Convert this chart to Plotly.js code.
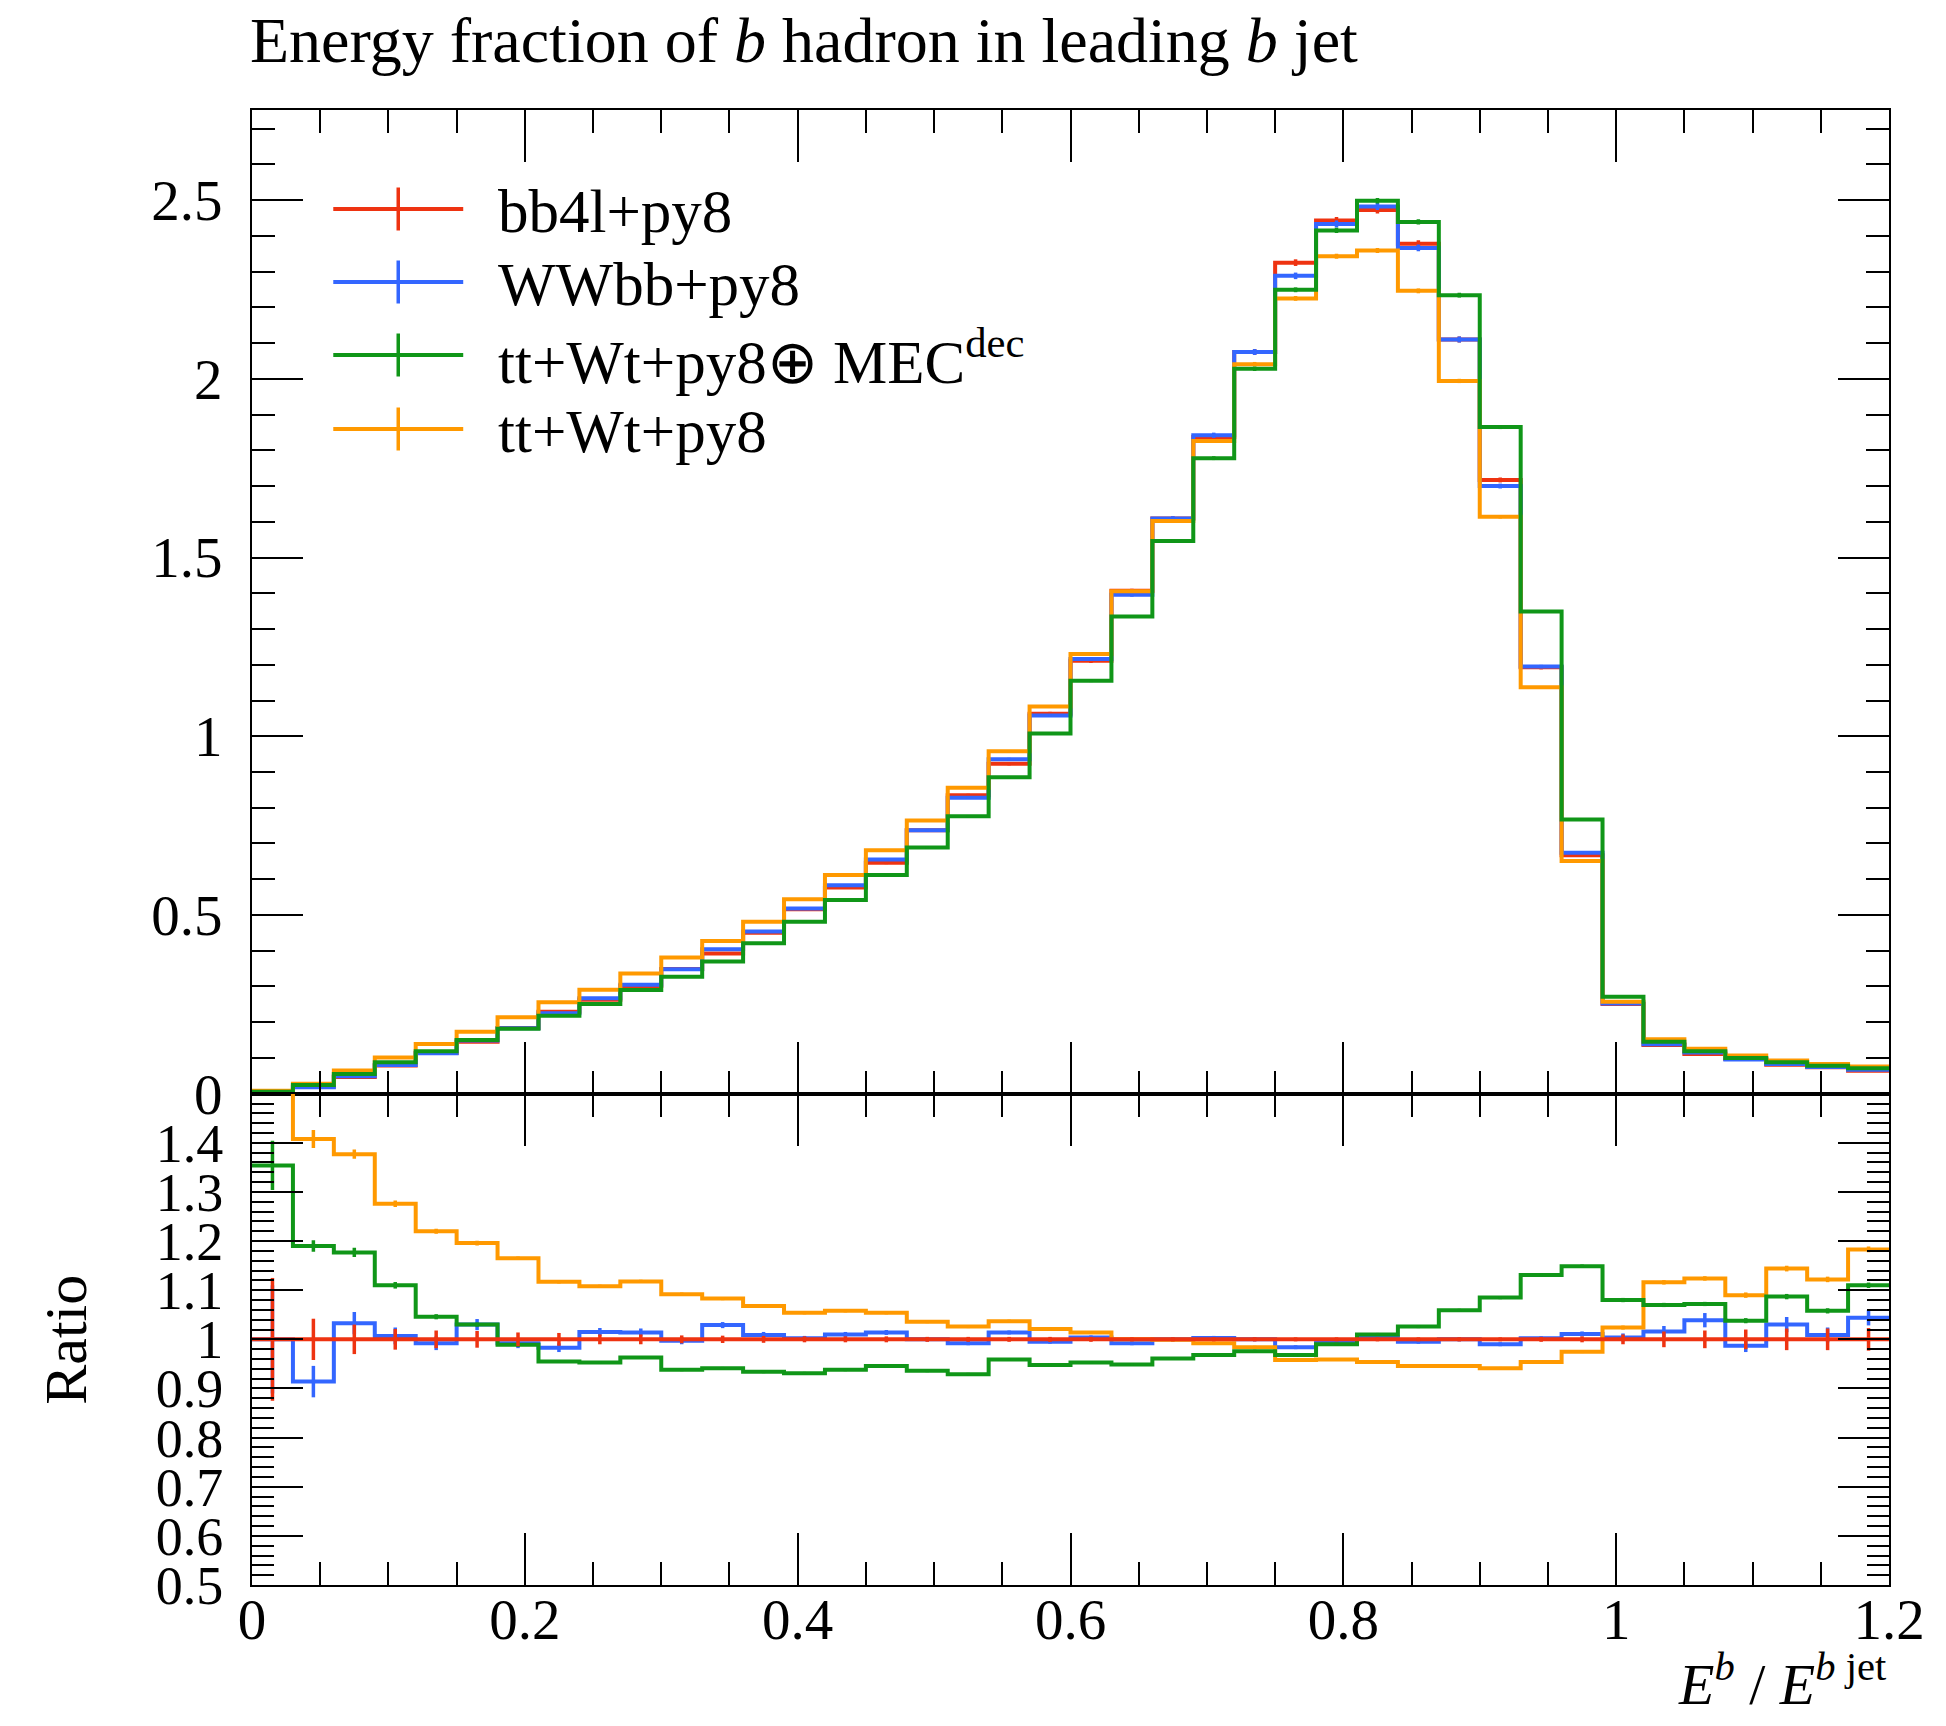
<!DOCTYPE html>
<html>
<head>
<meta charset="utf-8">
<script src="https://cdn.plot.ly/plotly-3.0.1.min.js"></script>
<style>
  html, body { margin: 0; padding: 0; background: #ffffff; }
  #plot { width: 1946px; height: 1726px; }
</style>
</head>
<body>
<div id="plot"></div>
<script>
// Bin edges of the E^b / E^{b jet} histogram
const binEdges = [0, 0.03, 0.06, 0.09, 0.12, 0.15, 0.18, 0.21, 0.24, 0.27, 0.3,
  0.33, 0.36, 0.39, 0.42, 0.45, 0.48, 0.51, 0.54, 0.57, 0.6,
  0.63, 0.66, 0.69, 0.72, 0.75, 0.78, 0.81, 0.84, 0.87, 0.9,
  0.93, 0.96, 0.99, 1.02, 1.05, 1.08, 1.11, 1.14, 1.17, 1.2];

const seriesNames = ['bb4l+py8', 'WWbb+py8', 'tt+Wt+py8\u2295 MEC<sup>dec</sup>', 'tt+Wt+py8'];
const seriesColors = ['#EE3311', '#3366FF', '#109618', '#FF9900'];

// Normalised distributions (one value per bin)
const bb4l = [0.004, 0.020, 0.047, 0.079, 0.114, 0.145, 0.184, 0.229, 0.263, 0.301,
  0.349, 0.392, 0.450, 0.516, 0.577, 0.646, 0.737, 0.835, 0.923, 1.063,
  1.211, 1.407, 1.609, 1.837, 2.075, 2.325, 2.443, 2.472, 2.378, 2.110,
  1.717, 1.193, 0.667, 0.251, 0.136, 0.111, 0.097, 0.081, 0.074, 0.064];
const wwbb = [0.004, 0.018, 0.049, 0.080, 0.113, 0.149, 0.183, 0.225, 0.267, 0.305,
  0.348, 0.404, 0.454, 0.518, 0.583, 0.655, 0.737, 0.828, 0.936, 1.058,
  1.216, 1.396, 1.609, 1.842, 2.075, 2.288, 2.433, 2.482, 2.366, 2.110,
  1.700, 1.195, 0.674, 0.252, 0.138, 0.115, 0.096, 0.083, 0.075, 0.067];
const ttWtMEC = [0.0055, 0.024, 0.055, 0.088, 0.119, 0.150, 0.182, 0.218, 0.251, 0.290,
  0.327, 0.370, 0.421, 0.481, 0.542, 0.612, 0.689, 0.776, 0.885, 1.008,
  1.155, 1.335, 1.546, 1.778, 2.028, 2.249, 2.415, 2.498, 2.439, 2.234,
  1.865, 1.349, 0.767, 0.271, 0.145, 0.119, 0.100, 0.088, 0.078, 0.071];
const ttWt = [0.008, 0.028, 0.065, 0.101, 0.139, 0.173, 0.214, 0.256, 0.291, 0.336,
  0.381, 0.427, 0.481, 0.544, 0.612, 0.681, 0.764, 0.856, 0.958, 1.083,
  1.230, 1.406, 1.602, 1.826, 2.041, 2.225, 2.343, 2.359, 2.246, 1.994,
  1.614, 1.137, 0.651, 0.257, 0.152, 0.126, 0.107, 0.093, 0.083, 0.076];

// Ratios to bb4l+py8
const ratioWWbb = [1.000, 0.914, 1.033, 1.007, 0.992, 1.030, 0.992, 0.983, 1.015, 1.014,
  0.997, 1.029, 1.009, 1.002, 1.010, 1.014, 1.000, 0.992, 1.014, 0.995,
  1.004, 0.992, 1.000, 1.003, 1.000, 0.984, 0.996, 1.004, 0.995, 1.000,
  0.990, 1.002, 1.011, 1.004, 1.016, 1.039, 0.987, 1.030, 1.009, 1.044];
const ratioTtWtMEC = [1.354, 1.190, 1.177, 1.110, 1.046, 1.030, 0.989, 0.955, 0.953, 0.963,
  0.938, 0.941, 0.934, 0.931, 0.938, 0.946, 0.936, 0.929, 0.959, 0.948,
  0.953, 0.949, 0.961, 0.968, 0.976, 0.968, 0.990, 1.010, 1.026, 1.059,
  1.085, 1.131, 1.149, 1.080, 1.070, 1.072, 1.038, 1.087, 1.058, 1.110];
const ratioTtWt = [1.900, 1.408, 1.377, 1.276, 1.220, 1.196, 1.165, 1.117, 1.108, 1.118,
  1.092, 1.083, 1.068, 1.054, 1.058, 1.054, 1.036, 1.026, 1.037, 1.021,
  1.014, 1.000, 0.999, 0.992, 0.984, 0.958, 0.959, 0.954, 0.946, 0.946,
  0.941, 0.954, 0.975, 1.024, 1.116, 1.124, 1.090, 1.144, 1.122, 1.183];

// Relative statistical uncertainties
const relErrBb4l = [0.125, 0.042, 0.030, 0.021, 0.018, 0.017, 0.014, 0.013, 0.010, 0.010,
  0.008, 0.0075, 0.007, 0.006, 0.006, 0.006, 0.005, 0.005, 0.005, 0.005,
  0.005, 0.004, 0.004, 0.004, 0.004, 0.004, 0.004, 0.004, 0.004, 0.004,
  0.004, 0.005, 0.006, 0.010, 0.016, 0.018, 0.020, 0.022, 0.022, 0.023];
const relErrWWbb = [0.110, 0.035, 0.022, 0.017, 0.014, 0.011, 0.010, 0.009, 0.008, 0.008,
  0.007, 0.006, 0.006, 0.005, 0.005, 0.005, 0.004, 0.004, 0.004, 0.004,
  0.004, 0.004, 0.004, 0.004, 0.004, 0.004, 0.004, 0.004, 0.004, 0.004,
  0.004, 0.004, 0.005, 0.008, 0.011, 0.014, 0.013, 0.015, 0.015, 0.015];
const relErrTtWtMEC = [0.037, 0.010, 0.008, 0.006, 0.005, 0.004, 0.004, 0.003, 0.003, 0.003,
  0.003, 0.003, 0.003, 0.003, 0.003, 0.003, 0.003, 0.003, 0.003, 0.003,
  0.003, 0.003, 0.003, 0.003, 0.003, 0.003, 0.003, 0.003, 0.003, 0.003,
  0.003, 0.003, 0.003, 0.004, 0.004, 0.004, 0.005, 0.005, 0.005, 0.005];
const relErrTtWt = [0.040, 0.013, 0.007, 0.005, 0.004, 0.004, 0.003, 0.003, 0.003, 0.003,
  0.003, 0.003, 0.003, 0.003, 0.003, 0.003, 0.003, 0.003, 0.003, 0.003,
  0.003, 0.003, 0.003, 0.003, 0.003, 0.003, 0.003, 0.003, 0.003, 0.003,
  0.003, 0.003, 0.003, 0.004, 0.004, 0.004, 0.005, 0.005, 0.005, 0.005];

// Axis tick labels
const mainTickVals = [0, 0.5, 1, 1.5, 2, 2.5];
const mainTickText = ['0', '0.5', '1', '1.5', '2', '2.5'];
const ratioTickVals = [0.5, 0.6, 0.7, 0.8, 0.9, 1.0, 1.1, 1.2, 1.3, 1.4];
const ratioTickText = ['0.5', '0.6', '0.7', '0.8', '0.9', '1', '1.1', '1.2', '1.3', '1.4'];
const xTickVals = [0, 0.2, 0.4, 0.6, 0.8, 1.0, 1.2];
const xTickText = ['0', '0.2', '0.4', '0.6', '0.8', '1', '1.2'];

const FONT = 'Liberation Serif, Times New Roman, serif';
const LINE_W = 4;

const binCentres = binEdges.slice(0, -1).map((e, i) => (e + binEdges[i + 1]) / 2);
const stepValues = vals => vals.concat([vals[vals.length - 1]]);

function histTrace(vals, color, xa, ya) {
  return {
    type: 'scatter', mode: 'lines', x: binEdges, y: stepValues(vals),
    line: { shape: 'hv', color: color, width: LINE_W },
    xaxis: xa, yaxis: ya, hoverinfo: 'skip', showlegend: false
  };
}
function errTrace(vals, errs, color, xa, ya) {
  return {
    type: 'scatter', mode: 'markers', x: binCentres, y: vals,
    marker: { size: 1, color: 'rgba(0,0,0,0)' },
    error_y: { type: 'data', array: errs, visible: true, color: color, thickness: 3.5, width: 0 },
    xaxis: xa, yaxis: ya, hoverinfo: 'skip', showlegend: false
  };
}

const mainSeries = [bb4l, wwbb, ttWtMEC, ttWt];
const mainErrs = [relErrBb4l, relErrWWbb, relErrTtWtMEC, relErrTtWt];
const ratioBb4l = bb4l.map(v => v / v);
const ratioSeries = [ratioBb4l, ratioWWbb, ratioTtWtMEC, ratioTtWt];

const traces = [];
// upper panel: drawing order red, blue, orange, green
[0, 1, 3, 2].forEach(k => {
  traces.push(histTrace(mainSeries[k], seriesColors[k], 'x', 'y'));
  traces.push(errTrace(mainSeries[k], mainSeries[k].map((v, i) => v * mainErrs[k][i]), seriesColors[k], 'x', 'y'));
});
// ratio panel: reference drawn last
[1, 3, 2, 0].forEach(k => {
  traces.push(histTrace(ratioSeries[k], seriesColors[k], 'x2', 'y2'));
  traces.push(errTrace(ratioSeries[k], ratioSeries[k].map((v, i) => v * mainErrs[k][i]), seriesColors[k], 'x2', 'y2'));
});

// Plot geometry (pixels)
const W = 1946, H = 1726;
const mL = 251.7, mR = 56.7, mT = 110, mB = 141;
const plotW = W - mL - mR, plotH = H - mT - mB;
const splitPx = 1093.7;                      // boundary between panels
const splitFrac = (H - mB - splitPx) / plotH;
const px2x = px => (px - mL) / plotW;
const py2y = py => (H - mB - py) / plotH;

const tickStyle = { ticks: 'inside', tickwidth: 2, tickcolor: 'black', showline: true,
  linecolor: 'black', linewidth: 2, mirror: 'ticks', showgrid: false, zeroline: false };

// Legend: line with an error-bar cross, then the label
const shapes = [];
const annotations = [];
const legendRowsPx = [209, 282, 355, 429];
seriesNames.forEach((name, k) => {
  const yc = py2y(legendRowsPx[k]);
  shapes.push({ type: 'line', xref: 'paper', yref: 'paper', x0: px2x(333), x1: px2x(463), y0: yc, y1: yc,
    line: { color: seriesColors[k], width: LINE_W } });
  shapes.push({ type: 'line', xref: 'paper', yref: 'paper', x0: px2x(398), x1: px2x(398),
    y0: yc - 21.5 / plotH, y1: yc + 21.5 / plotH, line: { color: seriesColors[k], width: 3.5 } });
  annotations.push({ xref: 'paper', yref: 'paper', x: px2x(496), y: py2y(legendRowsPx[k] + 2), xanchor: 'left', yanchor: 'middle',
    text: name, showarrow: false, font: { family: FONT, size: 61, color: 'black' } });
});
annotations.push({ xref: 'paper', yref: 'paper', x: 1, y: py2y(1680), xanchor: 'right', yanchor: 'middle',
  text: '<i>E</i><sup><i>b</i></sup> / <i>E</i><sup><i>b</i> jet</sup>', showarrow: false,
  font: { family: FONT, size: 58, color: 'black' } });
annotations.push({ xref: 'paper', yref: 'paper', x: px2x(66), y: splitFrac / 2, xanchor: 'center', yanchor: 'middle',
  textangle: -90, text: 'Ratio', showarrow: false, font: { family: FONT, size: 60, color: 'black' } });

const layout = {
  width: W, height: H,
  margin: { l: mL, r: mR, t: mT, b: mB, pad: 0 },
  paper_bgcolor: 'white', plot_bgcolor: 'white',
  font: { family: FONT, color: 'black', size: 57 },
  showlegend: false,
  title: { text: 'Energy fraction of <i>b</i> hadron in leading <i>b</i> jet',
    xref: 'container', x: 250 / W, xanchor: 'left', yref: 'container', y: 1 - 40 / H, yanchor: 'middle',
    font: { family: FONT, size: 64, color: 'black' } },
  xaxis: Object.assign({}, tickStyle, { domain: [0, 1], anchor: 'y', range: [0, 1.2],
    tickmode: 'array', tickvals: xTickVals, ticktext: xTickText, showticklabels: false, ticklen: 52,
    minor: { ticks: 'inside', ticklen: 23, tickwidth: 2, tickcolor: 'black', tickmode: 'linear', tick0: 0, dtick: 0.05, showgrid: false } }),
  yaxis: Object.assign({}, tickStyle, { domain: [splitFrac, 1], anchor: 'x', range: [0, 2.752],
    tickmode: 'array', tickvals: mainTickVals, ticktext: mainTickText, ticklen: 51, ticklabelstandoff: 16,
    minor: { ticks: 'inside', ticklen: 23, tickwidth: 2, tickcolor: 'black', tickmode: 'linear', tick0: 0, dtick: 0.1, showgrid: false } }),
  xaxis2: Object.assign({}, tickStyle, { domain: [0, 1], anchor: 'y2', range: [0, 1.2], matches: 'x',
    tickmode: 'array', tickvals: xTickVals, ticktext: xTickText, ticklen: 52, ticklabelstandoff: -16,
    minor: { ticks: 'inside', ticklen: 23, tickwidth: 2, tickcolor: 'black', tickmode: 'linear', tick0: 0, dtick: 0.05, showgrid: false } }),
  yaxis2: Object.assign({}, tickStyle, { domain: [0, splitFrac], anchor: 'x2', range: [0.5, 1.5],
    tickmode: 'array', tickvals: ratioTickVals, ticktext: ratioTickText, ticklen: 51, ticklabelstandoff: 16,
    tickfont: { family: FONT, size: 54, color: 'black' },
    minor: { ticks: 'inside', ticklen: 22, tickwidth: 2, tickcolor: 'black', tickmode: 'linear', tick0: 0.5, dtick: 0.02, showgrid: false } }),
  shapes: shapes,
  annotations: annotations
};

Plotly.newPlot('plot', traces, layout, { staticPlot: true, displayModeBar: false });
</script>
</body>
</html>
